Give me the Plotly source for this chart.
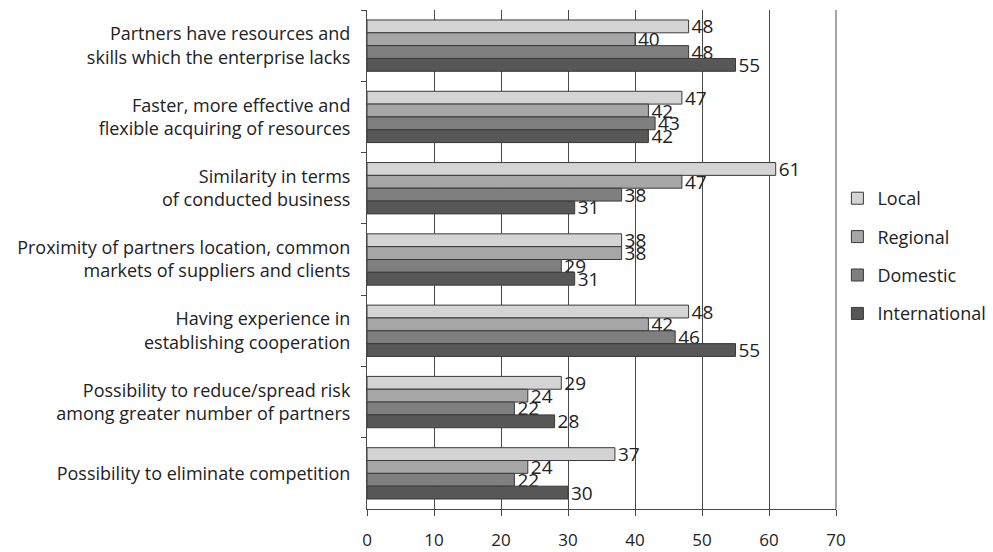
import plotly.graph_objects as go

categories = [
    "Partners have resources and<br>skills which the enterprise lacks",
    "Faster, more effective and<br>flexible acquiring of resources",
    "Similarity in terms<br>of conducted business",
    "Proximity of partners location, common<br>markets of suppliers and clients",
    "Having experience in<br>establishing cooperation",
    "Possibility to reduce/spread risk<br>among greater number of partners",
    "Possibility to eliminate competition",
]

series_names = ["Local", "Regional", "Domestic", "International"]
local = [48, 47, 61, 38, 48, 29, 37]
regional = [40, 42, 47, 38, 42, 24, 24]
domestic = [48, 43, 38, 29, 46, 22, 22]
international = [55, 42, 31, 31, 55, 28, 30]
x_ticks = [0, 10, 20, 30, 40, 50, 60, 70]

series_values = [local, regional, domestic, international]
fill_colors = ["#d4d4d4", "#a6a6a6", "#7f7f7f", "#575757"]

FONT = "Open Sans"
TXT = "#222222"

fig = go.Figure()
for name, vals, col in zip(series_names, series_values, fill_colors):
    fig.add_trace(go.Bar(
        name=name,
        y=categories,
        x=vals,
        orientation="h",
        marker=dict(color=col, line=dict(color="#3a3a3a", width=1)),
        text=[str(v) for v in vals],
        textposition="outside",
        constraintext="none",
        cliponaxis=False,
        textfont=dict(family=FONT, size=19, color=TXT),
        legendgroup=name,
    ))

fig.update_layout(
    width=993,
    height=552,
    margin=dict(l=367, r=157, t=10, b=43, autoexpand=False),
    paper_bgcolor="white",
    plot_bgcolor="white",
    barmode="group",
    bargap=0.28,
    bargroupgap=0,
    font=dict(family=FONT, size=18, color=TXT),
    showlegend=True,
    legend=dict(
        x=1.003, xanchor="left",
        y=0.507, yanchor="middle",
        font=dict(family=FONT, size=18, color=TXT),
        tracegroupgap=12,
        itemwidth=30,
    ),
    xaxis=dict(
        range=[0, 70],
        tickvals=x_ticks,
        ticktext=[str(t) for t in x_ticks],
        showgrid=True,
        gridcolor="#4a4a4a",
        gridwidth=1,
        showline=True,
        linecolor="#4a4a4a",
        linewidth=1,
        ticks="outside",
        ticklen=6,
        tickcolor="#4a4a4a",
        tickfont=dict(family=FONT, size=17, color=TXT),
        ticklabelstandoff=10,
        zeroline=False,
        mirror=False,
        automargin=False,
    ),
    yaxis=dict(
        autorange="reversed",
        showline=True,
        linecolor="#4a4a4a",
        linewidth=1,
        ticks="outside",
        ticklen=5,
        tickcolor="#4a4a4a",
        tickson="boundaries",
        tickfont=dict(family=FONT, size=18, color=TXT),
        ticklabelstandoff=12,
        automargin=False,
    ),
)

# right border of the plotting area
fig.add_shape(type="line", xref="paper", yref="paper", x0=1, x1=1, y0=0, y1=1,
              line=dict(color="#4a4a4a", width=1))

fig.write_html("out.html")
